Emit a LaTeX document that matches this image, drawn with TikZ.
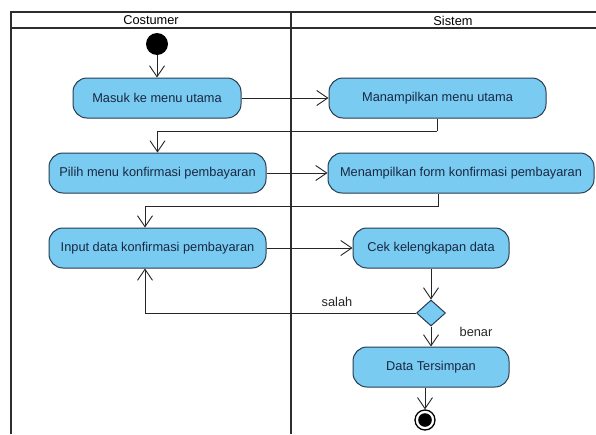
\documentclass[tikz,border=0pt]{standalone}
\usepackage{fontspec}
\setmainfont{Liberation Sans}
\usetikzlibrary{arrows.meta,shapes.geometric}
\definecolor{actfill}{RGB}{122,203,241}
\definecolor{actline}{RGB}{40,60,80}
\definecolor{acttext}{RGB}{25,40,65}
\definecolor{laneline}{RGB}{45,45,45}
\begin{document}
\begin{tikzpicture}[x=1pt,y=-1pt,
  every node/.style={font=\fontsize{12.8}{14}\selectfont},
  act/.style={draw=actline,line width=1pt,fill=actfill,rounded corners=14pt,
    minimum height=40pt,inner sep=0pt,text=acttext},
  lane/.style={draw=laneline,line width=2pt},
  flow/.style={draw=black!85,line width=0.9pt,-{Straight Barb[length=11pt,width=15pt,line width=0.9pt]}},
  link/.style={draw=black!85,line width=0.9pt},
  dec/.style={diamond,draw=actline,line width=1pt,fill=actfill,inner sep=0pt,
    minimum width=29pt,minimum height=26pt},
  lbl/.style={text=black!85}]
\useasboundingbox (0,0) rectangle (596,434);
\fill[white] (0,0) rectangle (596,434);

% swimlanes
\draw[lane] (11,434) -- (11,12) -- (597,12);
\draw[lane] (11,28) -- (597,28);
\draw[lane] (291,12) -- (291,434);
\node (hcost) at (151,20.5) {Costumer};
\node (hsis) at (453,20.5) {Sistem};

% activities
\fill (157,44) circle (11) coordinate (start);
\node[act,minimum width=168pt] (masuk) at (157,98) {Masuk ke menu utama};
\node[act,minimum width=217pt] (menu) at (437.5,98) {Manampilkan menu utama};
\node[act,minimum width=217pt] (pilih) at (157.5,173) {Pilih menu konfirmasi pembayaran};
\node[act,minimum width=266pt] (form) at (461,173) {Menampilkan form konfirmasi pembayaran};
\node[act,minimum width=217pt] (input) at (157.5,248) {Input data konfirmasi pembayaran};
\node[act,minimum width=156pt] (cek) at (431,248) {Cek kelengkapan data};
\node[dec] (check) at (431,313) {};
\node[act,minimum width=156pt] (simpan) at (431,367) {Data Tersimpan};
\node[circle,draw=black,line width=1.3pt,minimum size=20pt,inner sep=0pt] (final) at (425,420) {};
\fill (final) circle (6.8);

% routing points
\coordinate (r1) at (437,131);
\coordinate (r2) at (438,206);
\coordinate (r3) at (145,206);

% flows
\draw[flow] (start) ++(0,11) -- (masuk.north);
\draw[flow] (masuk.east) -- (menu.west);
\draw[link] (menu.south -| r1) -- (r1);
\draw[flow] (r1) -| (pilih.north);
\draw[flow] (pilih.east) -- (form.west);
\draw[link] (form.south -| r2) -- (r2) -- (r3);
\draw[flow] (r3) -- (r3 |- input.north);
\draw[flow] (input.east) -- (cek.west);
\draw[flow] (cek.south) -- (check.north);
\draw[flow] (check.west) -| (r3 |- input.south);
\draw[flow] (check.south) -- (simpan.north);
\draw[flow] (simpan.south -| final) -- (final.north);

% guards
\node[lbl] (salah) at (337,302) {salah};
\node[lbl] (benar) at (476,332) {benar};
\end{tikzpicture}
\end{document}
